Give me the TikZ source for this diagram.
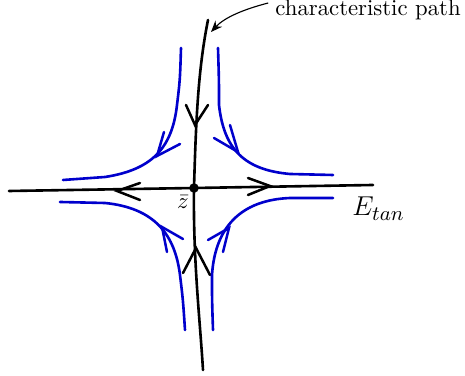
\documentclass[tikz,border=0pt]{standalone}
\usetikzlibrary{arrows.meta}
\definecolor{flowblue}{RGB}{0,0,204}
\begin{document}
\begin{tikzpicture}[x=0.44pt,y=-0.44pt,
  blk/.style={line width=1.15pt,black,line cap=round,line join=round},
  flow/.style={line width=1.15pt,flowblue,line cap=round,line join=round},
  chev/.style={line width=1.1pt,line cap=round,line join=miter},
  lbl/.style={inner sep=0pt}]
\useasboundingbox (0,0) rectangle (465,376);
% saddle point
\node[circle,fill=black,inner sep=0pt,minimum size=4.2pt] (z) at (194,188) {};
% horizontal line
\coordinate (hl) at (9,191);
\coordinate (hr) at (373,185);
\draw[blk] (hl) -- (z.center) -- (hr);
% characteristic (vertical) path
\coordinate (vt) at (208,20);
\coordinate (vb) at (203,370);
\draw[blk] (vt) .. controls (198,70) and (196,120) .. (z.center)
           .. controls (193,260) and (200,320) .. (vb);
% black chevrons
\draw[chev,black] (186,105) -- (195,125) -- (208,105);
\draw[chev,black] (183,273) -- (196,248) -- (210,275);
\draw[chev,black] (140,183) -- (117,191) -- (140,200);
\draw[chev,black] (248,178) -- (270,186) -- (248,195);
% blue flow lines
\draw[flow] (181,48) .. controls (180,80) .. (177,105)
  .. controls (172,150) and (150,170) .. (105,177) -- (63,180);
\draw[flow] (218,48) .. controls (219,80) .. (219,105)
  .. controls (224,150) and (245,170) .. (290,174) -- (333,175);
\draw[flow] (60,202) -- (105,203) .. controls (155,208) and (175,235) .. (180,275)
  .. controls (183,300) .. (185,330);
\draw[flow] (333,198) -- (290,198) .. controls (240,200) and (215,228) .. (212,275)
  .. controls (212,300) .. (213,330);
% blue chevrons
\draw[chev,flowblue] (164,132) -- (157,156) -- (180,144);
\draw[chev,flowblue] (230,125) -- (238,152) -- (214,138);
\draw[chev,flowblue] (167,252) -- (162,227) -- (183,239);
\draw[chev,flowblue] (223,252) -- (229,228) -- (208,240);
% labels
\node[lbl] (zlab) at (183,202) {$\bar{z}$};
\node[lbl,anchor=base west] (Etan) at (352,216) {\fontsize{13.2}{15}\selectfont $E_{tan}$};
\node[lbl,anchor=base west] (cp) at (275,15.5) {characteristic path};
\coordinate (cpend) at (211,32);
\draw[line width=0.5pt,-{Stealth[length=5pt,width=4pt]}]
  ([xshift=-3pt,yshift=3pt]cp.west) .. controls (245,9) and (225,17) .. (cpend);
\end{tikzpicture}
\end{document}
